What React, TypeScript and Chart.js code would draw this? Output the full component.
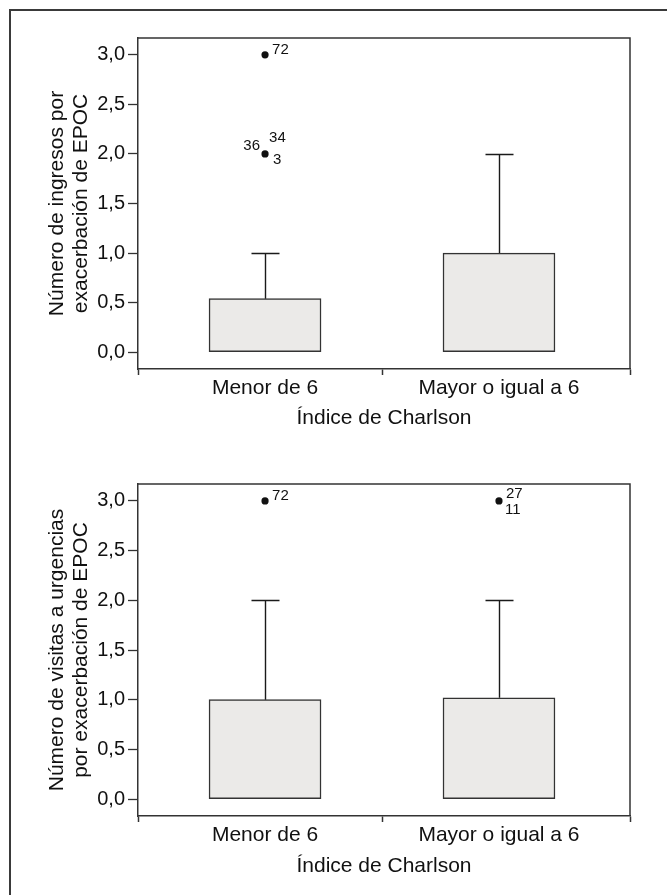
import React, { useEffect, useRef } from 'react';
import { Chart, registerables } from 'chart.js';

Chart.register(...registerables);

// ---- shared labels ----
const categories = ['Menor de 6', 'Mayor o igual a 6'];
const xAxisTitle = 'Índice de Charlson';
const yTickValues = [0, 0.5, 1, 1.5, 2, 2.5, 3];
const yRange = [-0.17, 3.17];

// ---- panel 1: hospital admissions per COPD exacerbation ----
const ingresosTitle = ['Número de ingresos por', 'exacerbación de EPOC'];
const ingresosLower = [0, 0];
const ingresosUpper = [0.54, 1];
const ingresosWhisker = [1, 2];
const ingresosOutlierCategory = [1, 1];
const ingresosOutlierValue = [3, 2];
const ingresosOutlierCases = [['72'], ['36', '34', '3']];

// ---- panel 2: emergency visits per COPD exacerbation ----
const urgenciasTitle = ['Número de visitas a urgencias', 'por exacerbación de EPOC'];
const urgenciasLower = [0, 0];
const urgenciasUpper = [1, 1.02];
const urgenciasWhisker = [2, 2];
const urgenciasOutlierCategory = [1, 2];
const urgenciasOutlierValue = [3, 3];
const urgenciasOutlierCases = [['72'], ['27', '11']];

const FONT = "'Liberation Sans', Arial, Helvetica, sans-serif";
const INK = '#111';
const LINE = '#333';
const BOX_FILL = '#ebeae8';

// where case numbers sit around an outlier dot, by how many share the dot
const caseLabelLayout: Record<number, { dx: number; dy: number; align: CanvasTextAlign }[]> = {
  1: [{ dx: 7, dy: -5, align: 'left' }],
  2: [
    { dx: 7, dy: -7, align: 'left' },
    { dx: 6, dy: 9, align: 'left' },
  ],
  3: [
    { dx: -5, dy: -8, align: 'right' },
    { dx: 4, dy: -16, align: 'left' },
    { dx: 8, dy: 6, align: 'left' },
  ],
};

type PanelProps = {
  top: number;
  height: number;
  areaTop: number;
  areaBottom: number;
  xTitlePadding: number;
  yTitle: string[];
  lower: number[];
  upper: number[];
  whisker: number[];
  outlierCategory: number[];
  outlierValue: number[];
  outlierCases: string[][];
};

function BoxPanel(p: PanelProps) {
  const ref = useRef<HTMLCanvasElement | null>(null);

  useEffect(() => {
    const canvas = ref.current;
    if (!canvas) return;

    const frame = {
      id: 'frame',
      afterDatasetsDraw(chart: any) {
        const { ctx, chartArea: a } = chart;
        ctx.save();
        ctx.strokeStyle = LINE;
        ctx.lineWidth = 1.5;
        ctx.beginPath();
        ctx.moveTo(a.left, a.top);
        ctx.lineTo(a.right, a.top);
        ctx.lineTo(a.right, a.bottom);
        ctx.stroke();
        ctx.restore();
      },
    };

    const whiskers = {
      id: 'whiskers',
      afterDatasetsDraw(chart: any) {
        const { ctx, scales } = chart;
        const xs = scales.x;
        const ys = scales.y;
        ctx.save();
        ctx.strokeStyle = '#1a1a1a';
        ctx.lineWidth = 1.4;
        p.upper.forEach((q3, i) => {
          const cx = Math.round(xs.getPixelForValue(i + 1)) + 0.5;
          const y0 = ys.getPixelForValue(q3);
          const y1 = Math.round(ys.getPixelForValue(p.whisker[i])) + 0.5;
          ctx.beginPath();
          ctx.moveTo(cx, y0);
          ctx.lineTo(cx, y1);
          ctx.moveTo(cx - 14, y1);
          ctx.lineTo(cx + 14, y1);
          ctx.stroke();
        });
        ctx.restore();
      },
    };

    const caseLabels = {
      id: 'caseLabels',
      afterDatasetsDraw(chart: any) {
        const { ctx } = chart;
        const meta = chart.getDatasetMeta(1);
        ctx.save();
        ctx.fillStyle = INK;
        ctx.font = `15px ${FONT}`;
        ctx.textBaseline = 'middle';
        meta.data.forEach((pt: any, i: number) => {
          const cases = p.outlierCases[i];
          const layout = caseLabelLayout[cases.length] || caseLabelLayout[1];
          cases.forEach((c, j) => {
            const l = layout[j] || layout[layout.length - 1];
            ctx.textAlign = l.align;
            ctx.fillText(c, pt.x + l.dx, pt.y + l.dy);
          });
        });
        ctx.restore();
      },
    };

    const xMin = 0.457;
    const xMax = 2.56;

    const chart = new Chart(canvas, {
      type: 'bar',
      data: {
        datasets: [
          {
            type: 'bar',
            data: p.lower.map((lo, i) => ({ x: i + 1, y: [lo, p.upper[i]] })) as any,
            backgroundColor: BOX_FILL,
            borderColor: LINE,
            borderWidth: 1.5,
            borderSkipped: false,
            barThickness: 112,
          },
          {
            type: 'scatter',
            data: p.outlierValue.map((v, i) => ({ x: p.outlierCategory[i], y: v })),
            pointRadius: 3.6,
            pointBackgroundColor: INK,
            pointBorderWidth: 0,
            showLine: false,
          } as any,
        ],
      },
      options: {
        responsive: false,
        animation: false,
        events: [],
        layout: { padding: { top: p.areaTop, right: 37, left: 0, bottom: 0 } },
        plugins: { legend: { display: false }, tooltip: { enabled: false } },
        scales: {
          x: {
            type: 'linear',
            min: xMin,
            max: xMax,
            offset: false,
            afterBuildTicks: (s: any) => {
              s.ticks = [xMin, 1, 1.5, 2, xMax].map((v) => ({ value: v }));
            },
            afterFit: (s: any) => {
              s.height = p.height - p.areaBottom;
            },
            border: { display: true, color: LINE, width: 1.5 },
            grid: {
              offset: false,
              drawOnChartArea: false,
              drawTicks: true,
              tickLength: 6,
              tickWidth: 1.5,
              tickColor: (ctx: any) =>
                ctx.tick && (ctx.tick.value === 1 || ctx.tick.value === 2) ? 'rgba(0,0,0,0)' : LINE,
            },
            ticks: {
              autoSkip: false,
              maxRotation: 0,
              padding: 2.5,
              color: INK,
              font: { family: FONT, size: 21, lineHeight: 1 },
              callback: (v: any) => (v === 1 ? categories[0] : v === 2 ? categories[1] : ''),
            },
            title: {
              display: true,
              text: xAxisTitle,
              color: INK,
              font: { family: FONT, size: 21, lineHeight: 1 },
              padding: { top: 0, bottom: p.xTitlePadding },
            },
          },
          y: {
            type: 'linear',
            min: yRange[0],
            max: yRange[1],
            afterBuildTicks: (s: any) => {
              s.ticks = yTickValues.map((v) => ({ value: v }));
            },
            afterFit: (s: any) => {
              s.width = 138;
            },
            border: { display: true, color: LINE, width: 1.5 },
            grid: {
              drawOnChartArea: false,
              drawTicks: true,
              tickLength: 10,
              tickWidth: 1.3,
              tickColor: LINE,
            },
            ticks: {
              padding: 3,
              color: INK,
              font: { family: FONT, size: 20 },
              callback: (v: any) => Number(v).toFixed(1).replace('.', ','),
            },
            title: {
              display: true,
              text: p.yTitle,
              color: INK,
              font: { family: FONT, size: 21, lineHeight: 24 / 21 },
              padding: { top: 45, bottom: 0 },
            },
          },
        },
      },
      plugins: [frame, whiskers, caseLabels],
    });

    return () => chart.destroy();
  }, [p]);

  return (
    <canvas
      ref={ref}
      width={667}
      height={p.height}
      style={{ position: 'absolute', left: 0, top: p.top, width: 667, height: p.height }}
    />
  );
}

const ingresosPanel: PanelProps = {
  top: 0,
  height: 440,
  areaTop: 38,
  areaBottom: 369,
  xTitlePadding: 11.5,
  yTitle: ingresosTitle,
  lower: ingresosLower,
  upper: ingresosUpper,
  whisker: ingresosWhisker,
  outlierCategory: ingresosOutlierCategory,
  outlierValue: ingresosOutlierValue,
  outlierCases: ingresosOutlierCases,
};

const urgenciasPanel: PanelProps = {
  top: 440,
  height: 455,
  areaTop: 44,
  areaBottom: 376,
  xTitlePadding: 18,
  yTitle: urgenciasTitle,
  lower: urgenciasLower,
  upper: urgenciasUpper,
  whisker: urgenciasWhisker,
  outlierCategory: urgenciasOutlierCategory,
  outlierValue: urgenciasOutlierValue,
  outlierCases: urgenciasOutlierCases,
};

export default function App() {
  return (
    <div
      style={{
        position: 'fixed',
        left: 0,
        top: 0,
        width: 667,
        height: 895,
        overflow: 'hidden',
        background: '#fff',
      }}
    >
      <div
        style={{
          position: 'absolute',
          left: 9,
          top: 9,
          width: 700,
          height: 920,
          borderTop: '2px solid #3a3a3a',
          borderLeft: '2px solid #3a3a3a',
        }}
      />
      <BoxPanel {...ingresosPanel} />
      <BoxPanel {...urgenciasPanel} />
    </div>
  );
}
